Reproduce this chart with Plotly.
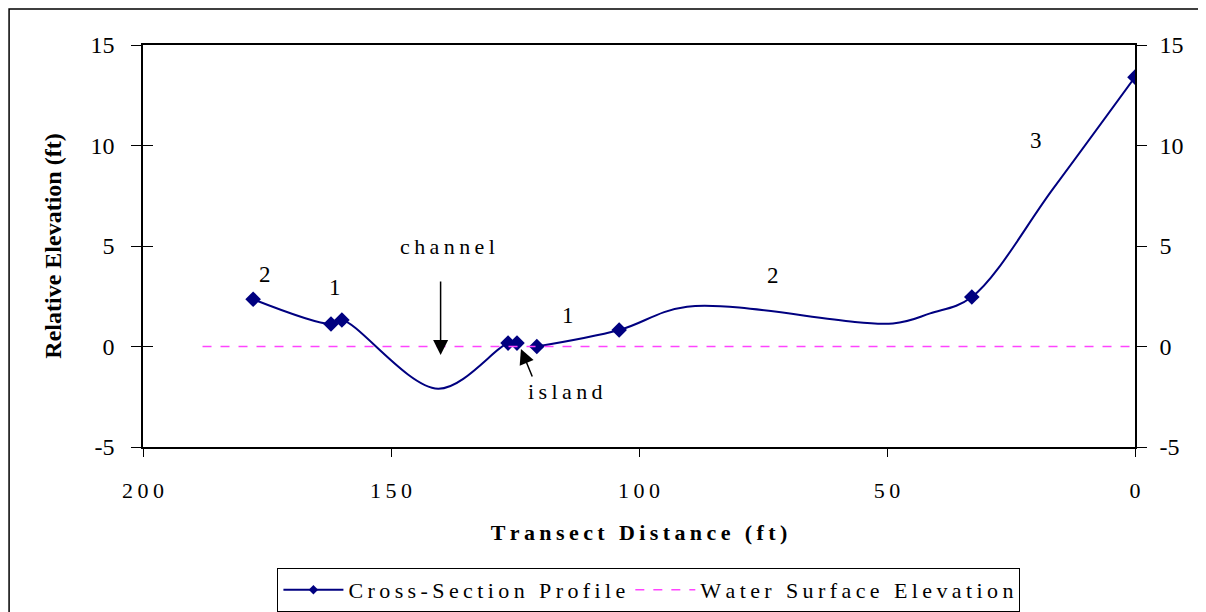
import plotly.graph_objects as go

# perfil transversal (ft); tamaño 0 = punto de forma sin marcador, None = hueco
dist = [177.8, 162.1, 159.9, 140.5, 126.4, 124.6, None, 120.6, 104.0, 90.3, 48.8, 41.3, 32.9, 16.5, 0.0]
elev = [2.35, 1.12, 1.32, -2.1, 0.17, 0.17, None, 0.0, 0.82, 1.98, 1.15, 1.65, 2.46, 7.85, 13.4]
marca = [12, 12, 12, 0, 12, 12, 0, 12, 12, 0, 0, 0, 12, 0, 12]

agua_x = [188.0, 0.0]
agua_y = [0.0, 0.0]

x_ticks = [200, 150, 100, 50, 0]
y_ticks = [-5, 0, 5, 10, 15]

etiquetas = ["2", "1", "1", "2", "3"]
etiq_x = [175.4, 161.3, 114.3, 73.0, 20.0]
etiq_y = [3.56, 2.96, 1.52, 3.51, 10.27]

FUENTE = "Liberation Serif, Times New Roman, serif"
AZUL = "#000080"
SP = "\u2009"  # espacio fino para imitar el espaciado de letras


def espaciar(s):
    return SP.join(s)


fig = go.Figure()

fig.add_trace(go.Scatter(
    x=dist, y=elev, mode="lines+markers", name=espaciar("Cross-Section Profile"),
    line=dict(color=AZUL, width=2, shape="spline"),
    marker=dict(symbol="diamond", size=marca, color=AZUL, opacity=1,
                line=dict(width=0)),
    connectgaps=False,
))
fig.add_trace(go.Scatter(
    x=agua_x, y=agua_y, mode="lines", name=espaciar("Water Surface Elevation"),
    line=dict(color="#FF44FF", width=1.5, dash="dash"),
))
# ejes auxiliares (eje derecho y marcas interiores del eje izquierdo)
fig.add_trace(go.Scatter(x=[None], y=[None], yaxis="y2", showlegend=False, hoverinfo="skip"))
fig.add_trace(go.Scatter(x=[None], y=[None], yaxis="y3", showlegend=False, hoverinfo="skip"))

anot = []
for t, xx, yy in zip(etiquetas, etiq_x, etiq_y):
    anot.append(dict(x=xx, y=yy, text=t, showarrow=False, font=dict(size=23)))
anot.append(dict(x=138.7, y=5.0, text=espaciar("channel"), showarrow=False, font=dict(size=22)))
anot.append(dict(x=114.9, y=-2.26, text=espaciar("island"), showarrow=False, font=dict(size=22)))
anot.append(dict(x=140.0, y=-0.42, ax=140.0, ay=3.31, axref="x", ayref="y",
                 text="", showarrow=True, arrowhead=2, arrowsize=2, arrowwidth=1.5,
                 arrowcolor="black"))
anot.append(dict(x=123.8, y=-0.12, ax=121.4, ay=-1.57, axref="x", ayref="y",
                 text="", showarrow=True, arrowhead=2, arrowsize=2, arrowwidth=1.5,
                 arrowcolor="black"))

eje_y = dict(range=[-5, 15], tickvals=y_ticks, ticktext=[str(v) for v in y_ticks],
             tickfont=dict(size=24), showgrid=False, zeroline=False, automargin=False,
             showline=True, linecolor="black", linewidth=1.5, fixedrange=True)

fig.update_layout(
    width=1198, height=604,
    margin=dict(l=135, r=71, t=37, b=165),
    paper_bgcolor="white", plot_bgcolor="white",
    font=dict(family=FUENTE, size=22, color="black"),
    xaxis=dict(range=[200, 0], tickvals=x_ticks,
               ticktext=[espaciar(str(v)) for v in x_ticks], tickfont=dict(size=22),
               showgrid=False, zeroline=False, automargin=False,
               showline=True, mirror=True, linecolor="black", linewidth=1.5,
               ticks="outside", ticklen=8, tickcolor="black",
               ticklabelstandoff=15,
               title=dict(text="<b>" + espaciar("Transect Distance (ft)") + "</b>",
                          font=dict(size=22), standoff=22)),
    yaxis=dict(**eje_y, side="left", ticks="outside", ticklen=10, tickcolor="black",
               ticklabelstandoff=12,
               title=dict(text="<b>Relative Elevation (ft)</b>", font=dict(size=24),
                          standoff=22)),
    yaxis2=dict(**eje_y, overlaying="y", side="right", ticks="outside", ticklen=10,
                tickcolor="black", ticklabelstandoff=8),
    yaxis3=dict(**eje_y, overlaying="y", side="left", ticks="inside", ticklen=10,
                tickcolor="black", showticklabels=False),
    showlegend=True,
    legend=dict(orientation="h", x=0.51, xanchor="center",
                yref="container", y=0.073, yanchor="top",
                bordercolor="black", borderwidth=1, font=dict(size=22),
                itemwidth=60),
    annotations=anot,
    shapes=[dict(type="rect", xref="paper", yref="paper",
                 x0=-0.135, x1=1.075, y0=-0.45, y1=1.0896,
                 line=dict(color="black", width=1.5), layer="below")],
)

fig.write_html("out.html")
